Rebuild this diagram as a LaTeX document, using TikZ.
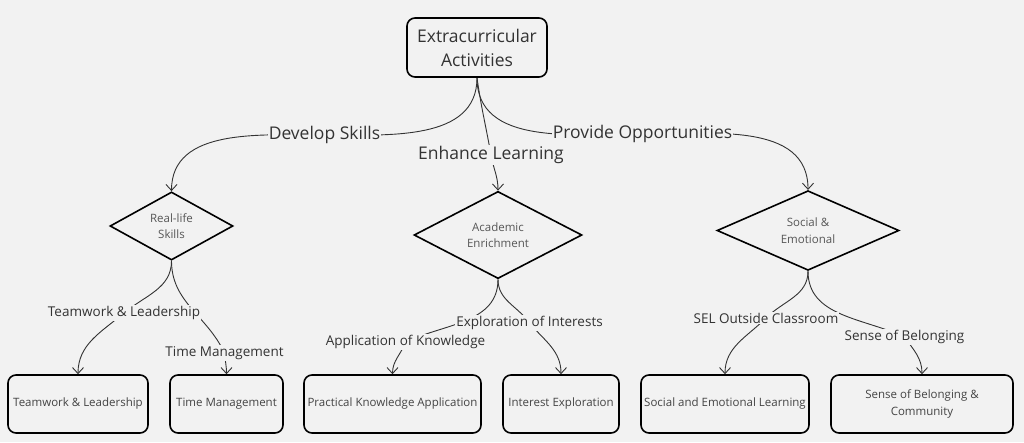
\documentclass[tikz,border=0pt]{standalone}
\usepackage{fontspec}
\setmainfont{Open Sans}
\usetikzlibrary{shapes.geometric,arrows.meta,backgrounds}
\definecolor{bgc}{HTML}{F2F2F2}
\definecolor{txt}{HTML}{333333}
\definecolor{boxtxt}{HTML}{444444}
\tikzset
    {
        bx/.style = {rectangle, rounded corners=8pt, draw=black, line width=1.6pt, align=center, text=boxtxt, inner sep=0pt, minimum height=58pt, font=\fontsize{11.5}{16.5}\selectfont},
        dm/.style = {diamond, draw=black, line width=1.6pt, align=center, text=boxtxt!90, inner sep=0pt, font=\fontsize{11.5}{16.5}\selectfont},
        lb/.style = {fill=bgc, inner sep=1pt, text=txt, font=\fontsize{17.5}{24}\selectfont},
        sl/.style = {fill=bgc, inner sep=1pt, text=txt, font=\fontsize{13.5}{16}\selectfont},
        edge/.style = {draw=txt, line width=0.9pt}
    }
\begin{document}
\begin{tikzpicture}[x=1pt, y=-1pt, ->, >={Straight Barb[length=6pt,width=11pt]}]
                        \useasboundingbox (0,0) rectangle (1024,442);
                        \node [bx, minimum width=140pt, minimum height=59pt, text=txt, font=\fontsize{17.5}{24}\selectfont] (root) at (477,47.5) {Extracurricular\\Activities};
                        \node [dm, minimum width=123pt, minimum height=58pt] (rl) at (171.5,226) {Real-life\\Skills};
                        \node [dm, minimum width=168pt, minimum height=76pt] (ae) at (498,235) {Academic\\Enrichment};
                        \node [dm, minimum width=182pt, minimum height=67pt] (se) at (808,230.5) {Social \&\\Emotional};
                        \node [bx, minimum width=140pt] (tl) at (78,404) {Teamwork \& Leadership};
                        \node [bx, minimum width=113pt] (tm) at (226.5,404) {Time Management};
                        \node [bx, minimum width=177pt] (pk) at (392.5,404) {Practical Knowledge Application};
                        \node [bx, minimum width=116pt] (ie) at (561,404) {Interest Exploration};
                        \node [bx, minimum width=168pt] (sel) at (725,404) {Social and Emotional Learning};
                        \node [bx, minimum width=182pt] (sb) at (922,404) {Sense of Belonging \&\\Community};
                        \node [lb] (dev) at (324.5,135) {Develop Skills};
                        \node [lb] (enh) at (491,155) {Enhance Learning};
                        \node [lb] (pro) at (642.5,134) {Provide Opportunities};
                        \node [sl] (tw) at (124,313) {Teamwork \& Leadership};
                        \node [sl] (tmg) at (224.5,353) {Time Management};
                        \node [sl] (app) at (405.5,342) {Application of Knowledge};
                        \node [sl] (exp) at (529.5,323) {Exploration of Interests};
                        \node [sl] (sol) at (766,318) {SEL Outside Classroom};
                        \node [sl] (sob) at (904.5,337) {Sense of Belonging};
                        \begin{scope}[on background layer]
                            \fill [bgc] (0,0) rectangle (1024,442);
                            \draw [edge] (root.south) to[out=-90, in=0] (dev.center) to[out=180, in=90] (rl.north);
                            \draw [edge] (root.south) to[out=-82, in=100] (enh.center) to[out=-80, in=90] (ae.north);
                            \draw [edge] (root.south) to[out=-90, in=180] (pro.center) to[out=0, in=90] (se.north);
                            \draw [edge] (rl.south) to[out=-90, in=40] (tw.center) to[out=-140, in=90] (tl.north);
                            \draw [edge] (rl.south) to[out=-90, in=115] (tmg.center) to[out=-85, in=90] (tm.north);
                            \draw [edge] (ae.south) to[out=-90, in=25] (app.center) to[out=-110, in=90] (pk.north);
                            \draw [edge] (ae.south) to[out=-90, in=125] (exp.center) to[out=-50, in=90] (ie.north);
                            \draw [edge] (se.south) to[out=-90, in=45] (sol.center) to[out=-135, in=90] (sel.north);
                            \draw [edge] (se.south) to[out=-90, in=155] (sob.center) to[out=-55, in=90] (sb.north);
                        \end{scope}
                    \end{tikzpicture}
\end{document}
